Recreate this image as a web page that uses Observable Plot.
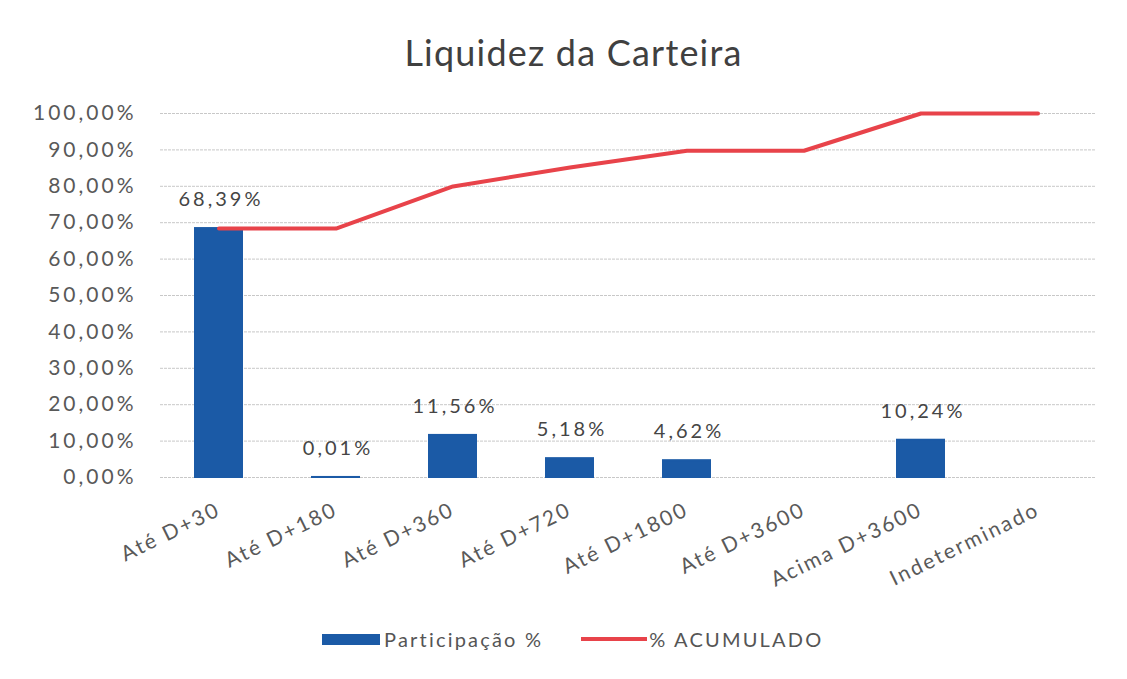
<!DOCTYPE html>
<html>
<head>
<meta charset="utf-8">
<script src="https://cdn.jsdelivr.net/npm/d3@7"></script>
<script src="https://cdn.jsdelivr.net/npm/@observablehq/plot@0.6"></script>
<style>
  body { margin: 0; background: #fff; font-family: Lato, "Open Sans", sans-serif; }
  #wrap { width: 1127px; height: 679px; position: relative; }
  #title { height: 85px; line-height: 104px; text-align: center; font-size: 36px; letter-spacing: 1.2px; color: #404040; padding-left: 20px; box-sizing: border-box; }
  #legend { position: absolute; top: 627px; left: 322px; display: flex; align-items: center; font-size: 20px; letter-spacing: 2.2px; color: #555; }
  .sw-bar { width: 58px; height: 11px; background: #1b5aa6; margin-right: 4px; }
  .sw-line { width: 66px; height: 4px; background: #e8434a; margin-right: 2px; margin-left: 38px; }
  svg g[aria-label="y-axis tick label"] text { letter-spacing: 3px; }
  svg g[aria-label="x-axis tick label"] text { letter-spacing: 2.2px; }
  svg g[aria-label="text"] text { letter-spacing: 3px; }
</style>
</head>
<body>
<div id="wrap">
  <div id="title">Liquidez da Carteira</div>
  <div id="chart"></div>
  <div id="legend">
    <div class="sw-bar"></div><span>Participação %</span>
    <div class="sw-line"></div><span>% ACUMULADO</span>
  </div>
</div>
<script>
const categories = ["Até D+30", "Até D+180", "Até D+360", "Até D+720", "Até D+1800", "Até D+3600", "Acima D+3600", "Indeterminado"];
const participacao = [68.39, 0.01, 11.56, 5.18, 4.62, 0, 10.24, 0];
const acumulado = [68.39, 68.40, 79.96, 85.14, 89.76, 89.76, 100.00, 100.00];
const yTicks = [0, 10, 20, 30, 40, 50, 60, 70, 80, 90, 100];

const fmt = v => v.toFixed(2).replace(".", ",") + "%";
const rows = categories.map((c, i) => ({cat: c, part: participacao[i], acum: acumulado[i]}));

const chart = Plot.plot({
  width: 1127,
  height: 507,
  marginTop: 28,
  marginBottom: 115,
  marginLeft: 160,
  marginRight: 31,
  style: {fontFamily: "Lato, 'Open Sans', sans-serif", background: "#fff"},
  x: {domain: categories, paddingInner: 0.6, paddingOuter: 0.3, label: null},
  y: {domain: [0, 100], label: null},
  marks: [
    Plot.gridY(yTicks, {stroke: "#c8c8c8", strokeOpacity: 1, strokeWidth: 1, strokeDasharray: "3,1"}),
    Plot.axisY({ticks: yTicks, tickFormat: fmt, tickSize: 0, tickPadding: 24, fontSize: 21, fill: "#595959", label: null}),
    Plot.axisX({tickSize: 0, tickRotate: -26, tickPadding: 31, fontSize: 21, fill: "#595959", label: null}),
    Plot.barY(rows.filter(d => d.part > 0), {x: "cat", y: "part", fill: "#1b5aa6", stroke: "#1b5aa6", strokeWidth: 2}),
    Plot.text(rows.filter(d => d.part > 0), {x: "cat", y: "part", text: d => fmt(d.part), dy: -29, dx: 2, fontSize: 20, fill: "#454545"}),
    Plot.lineY(rows, {x: "cat", y: "acum", stroke: "#e8434a", strokeWidth: 4})
  ]
});
document.getElementById("chart").appendChild(chart);
</script>
</body>
</html>
